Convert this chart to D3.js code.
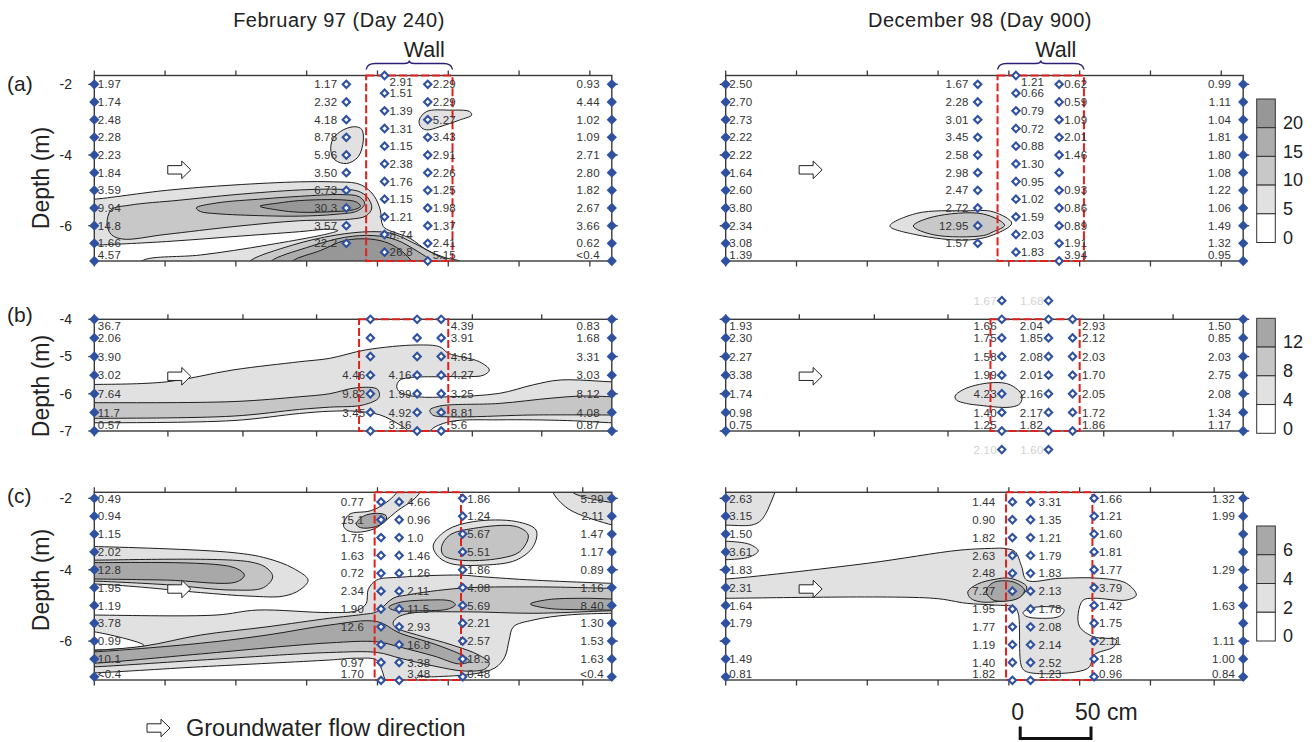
<!DOCTYPE html>
<html><head><meta charset="utf-8">
<script src="https://cdn.jsdelivr.net/npm/d3@7"></script>
<style>body{margin:0;background:#fff}svg text{font-family:"Liberation Sans",Arial,sans-serif}</style>
</head><body><svg id="chart" width="1315" height="742"></svg>
<script>
// ---------------- DATA ----------------
const titles = ["February 97 (Day 240)", "December 98 (Day 900)"];
const panelLetters = ["(a)", "(b)", "(c)"];
const yTicksA = [-2, -4, -6], yTicksB = [-4, -5, -6, -7], yTicksC = [-2, -4, -6];
const xTicksA = [0, 50, 100, 150, 200, 250, 300, 350];
const xTicksB = [0, 52, 105, 157, 267, 316];
const xTicksC = [0, 50, 100, 150, 200, 250, 300, 345];

// sampling depths (m)
const dep2to7 = [-2, -2.5, -3, -3.5, -4, -4.5, -5, -5.5, -6, -6.5, -7];
const dep175 = [-1.75, -2.25, -2.75, -3.25, -3.75, -4.25, -4.75, -5.25, -5.75, -6.25, -6.75];
const dep21 = [-2.1, -2.6, -3.1, -3.6, -4.1, -4.6, -5.1, -5.6, -6.1, -6.6, -7.1];
const dep4to7 = [-4, -4.5, -5, -5.5, -6, -6.5, -7];

// well positions along flow (cm)
const wellsA = [0, 178, 205, 235.5, 365.5];
const wellsB = [0, 195, 228, 245, 365.5];
const wellsC = [0, 202.5, 215.3, 260.2, 365.5];
const wallA = [192, 253], wallB = [187, 250], wallC = [198, 259];

// (a) February 97
const febA_c0 = ["1.97","1.74","2.48","2.28","2.23","1.84","3.59","9.94","14.8","1.66","4.57"];
const febA_c1 = ["1.17","2.32","4.18","8.78","5.96","3.50","6.73","30.3","3.57","22.2"];
const febA_c2 = ["2.91","1.51","1.39","1.31","1.15","2.38","1.76","1.15","1.21","8.74","26.8"];
const febA_c3 = ["2.29","2.29","5.27","3.43","2.91","2.26","1.25","1.98","1.37","2.41","5.15"];
const febA_c4 = ["0.93","4.44","1.02","1.09","2.71","2.80","1.82","2.67","3.66","0.62","<0.4"];
// (a) December 98
const decA_c0 = ["2.50","2.70","2.73","2.22","2.22","1.64","2.60","3.80","2.34","3.08","1.39"];
const decA_c1 = ["1.67","2.28","3.01","3.45","2.58","2.98","2.47","2.72","12.95","1.57"];
const decA_c2 = ["1.21","0.66","0.79","0.72","0.88","1.30","0.95","1.02","1.59","2.03","1.83"];
const decA_c3 = ["0.62","0.59","1.09","2.01","1.46","","0.93","0.86","0.89","1.91","3.94"];
const decA_c4 = ["0.99","1.11","1.04","1.81","1.80","1.08","1.22","1.06","1.49","1.32","0.95"];
// (b) February 97
const febB_c0 = ["36.7","2.06","3.90","3.02","7.64","11.7","0.57"];
const febB_c1 = ["","","","4.46","9.82","3.45",""];
const febB_c2 = ["","","","4.16","1.99","4.92","3.16"];
const febB_c3 = ["4.39","3.91","4.61","4.27","3.25","8.81","5.6"];
const febB_c4 = ["0.83","1.68","3.31","3.03","8.12","4.08","0.87"];
// (b) December 98
const decB_c0 = ["1.93","2.30","2.27","3.38","1.74","0.98","0.75"];
const decB_c1 = ["1.66","1.75","1.58","1.99","4.23","1.40","1.25"];
const decB_c2 = ["2.04","1.85","2.08","2.01","2.16","2.17","1.82"];
const decB_c3 = ["2.93","2.12","2.03","1.70","2.05","1.72","1.86"];
const decB_c4 = ["1.50","0.85","2.03","2.75","2.08","1.34","1.17"];
const decB_extraDepth = [-3.5, -7.5];
const decB_extra1 = ["1.67","2.10"];
const decB_extra2 = ["1.68","1.60"];
// (c) February 97
const febC_c0 = ["0.49","0.94","1.15","2.02","12.8","1.95","1.19","3.78","0.99","10.1","<0.4"];
const febC_c1 = ["0.77","15.1","1.75","1.63","0.72","2.34","1.90","12.6","","0.97","1.70"];
const febC_c2 = ["4.66","0.96","1.0","1.46","1.26","2.11","11.5","2.93","16.8","3.38","3.48"];
const febC_c3 = ["1.86","1.24","5.67","5.51","1.86","4.08","5.69","2.21","2.57","18.9","0.48"];
const febC_c4 = ["5.29","2.11","1.47","1.17","0.89","1.16","8.40","1.30","1.53","1.63","<0.4"];
// (c) December 98
const decC_c0 = ["2.63","3.15","1.50","3.61","1.83","2.31","1.64","1.79","","1.49","0.81"];
const decC_c1 = ["1.44","0.90","1.82","2.63","2.48","7.27","1.95","1.77","1.19","1.40","1.82"];
const decC_c2 = ["3.31","1.35","1.21","1.79","1.83","2.13","1.78","2.08","2.14","2.52","1.23"];
const decC_c3 = ["1.66","1.21","1.60","1.81","1.77","3.79","1.42","1.75","2.11","1.28","0.96"];
const decC_c4 = ["1.32","1.99","","","1.29","","1.63","","1.11","1.00","0.84"];

// legend levels
const levelsA = [0, 5, 10, 15, 20];
const levelsB = [0, 4, 8, 12];
const levelsC = [0, 2, 4, 6];
const shadesA = ["#ffffff", "#e1e1e1", "#c8c8c8", "#adadad", "#979797"];
const shadesB = ["#ffffff", "#e1e1e1", "#c6c6c6", "#a6a6a6"];
const shadesC = ["#ffffff", "#e1e1e1", "#c4c4c4", "#a8a8a8"];

// contour outlines: [distance cm, depth m]
const febA_lv5 = [[-6,-5.25],[0,-5.25],[51,-5.0],[98,-4.85],[145,-4.76],[169,-4.76],[185,-4.80],[192,-4.93],[198,-5.18],[202,-5.56],[203,-5.9],[205,-6.06],[223,-6.36],[235,-6.69],[249,-6.92],[258,-7.0],[262,-7.15],[30,-7.15],[35,-6.97],[75,-6.83],[122,-6.55],[166,-6.22],[172,-6.14],[166,-6.10],[145,-6.17],[98,-6.31],[51,-6.45],[0,-6.55],[-6,-6.55]];
const febA_lv10 = [[9,-5.95],[12,-5.55],[25,-5.42],[60,-5.28],[100,-5.12],[145,-4.99],[172,-4.97],[186,-5.02],[193,-5.2],[196,-5.5],[192,-5.72],[180,-5.82],[145,-5.86],[100,-6.02],[50,-6.25],[20,-6.38],[12,-6.25]];
const febA_lv15 = [[72,-5.5],[86,-5.36],[120,-5.24],[145,-5.17],[175,-5.12],[187,-5.18],[191,-5.38],[186,-5.58],[170,-5.68],[145,-5.73],[120,-5.72],[86,-5.66],[75,-5.6]];
const febA_lv20 = [[117,-5.45],[130,-5.36],[145,-5.29],[175,-5.27],[185,-5.33],[188,-5.45],[183,-5.55],[170,-5.6],[145,-5.62],[130,-5.56]];
const febA_lv10b = [[108,-7.15],[110,-7.0],[140,-6.55],[170,-6.27],[195,-6.17],[210,-6.22],[225,-6.48],[240,-6.8],[250,-7.0],[252,-7.15]];
const febA_lv15b = [[123,-7.15],[125,-7.0],[150,-6.62],[177,-6.33],[197,-6.28],[213,-6.4],[228,-6.72],[238,-7.0],[240,-7.15]];
const febA_lv20b = [[138,-7.15],[140,-7.0],[160,-6.7],[177,-6.42],[195,-6.38],[208,-6.5],[218,-6.75],[224,-7.0],[226,-7.15]];
const febA_spot1 = [[167,-3.86],[168.8,-3.53],[175.8,-3.29],[184,-3.2],[188.8,-3.27],[190,-3.58],[186.4,-4.05],[178.2,-4.24],[170,-4.14]];
const febA_spot2 = [[229.5,-3.01],[234.7,-2.77],[251,-2.73],[265,-2.77],[266.5,-2.87],[258,-3.01],[244,-3.2],[234.7,-3.29],[230.5,-3.2]];
const decA_lv5 = [[116,-6.01],[135,-5.65],[170,-5.58],[189,-5.61],[202,-5.93],[189,-6.26],[170,-6.41],[135,-6.26]];
const decA_lv10 = [[132.5,-6.01],[146.6,-5.75],[182,-5.67],[197,-5.99],[189,-6.17],[182,-6.28],[147,-6.26]];

const febB_lv4 = [[-6,-5.75],[0,-5.75],[51,-5.68],[98,-5.36],[145,-5.14],[166,-5.05],[192,-4.82],[228,-4.69],[244,-4.74],[250,-4.91],[272,-5.14],[279,-5.36],[275,-5.5],[263,-5.54],[249,-5.54],[216,-5.63],[213.6,-5.81],[216,-5.96],[228,-6.08],[251,-6.08],[286,-5.99],[310,-5.76],[329,-5.63],[366,-5.68],[372,-5.68],[372,-6.78],[366,-6.78],[334,-6.72],[286,-6.7],[251,-6.75],[238,-6.97],[238,-7.1],[220,-7.1],[220.6,-6.97],[216,-6.84],[202,-6.57],[185,-6.47],[166,-6.47],[145,-6.53],[98,-6.72],[0,-6.78],[-6,-6.78]];
const febB_lv8a = [[-6,-6.24],[0,-6.24],[98,-6.21],[145,-6.08],[166,-6.0],[185,-5.84],[200,-5.88],[201,-6.1],[190,-6.3],[166,-6.36],[145,-6.42],[98,-6.6],[0,-6.66],[-6,-6.66]];
const febB_lv8b = [[237,-6.44],[244,-6.33],[286,-6.26],[322,-6.12],[345,-6.06],[366,-6.08],[372,-6.08],[372,-6.57],[366,-6.57],[310,-6.57],[251,-6.62],[239,-6.57]];
const decB_lv4 = [[162,-6.06],[170,-5.85],[189,-5.7],[201,-5.76],[209,-6.03],[208,-6.26],[201,-6.36],[177,-6.3],[170,-6.26],[163,-6.17]];

const febC_up2 = [[-6,-3.35],[0,-3.35],[98,-3.52],[122,-3.68],[140.5,-3.96],[151,-4.29],[145,-4.57],[133.5,-4.74],[110,-4.74],[75,-4.64],[28,-4.47],[0,-4.40],[-6,-4.40]];
const febC_up4 = [[-6,-3.73],[0,-3.73],[110,-3.78],[122,-3.96],[126,-4.2],[119.6,-4.5],[98,-4.57],[51,-4.42],[0,-4.32],[-6,-4.32]];
const febC_up6 = [[-6,-3.8],[0,-3.8],[98,-3.93],[106,-4.15],[100.5,-4.34],[51,-4.29],[0,-4.26],[-6,-4.26]];
const febC_lo2 = [[-6,-5.27],[0,-5.27],[86,-5.27],[115,-5.13],[166,-5.2],[185,-5.15],[192,-4.95],[193.5,-4.55],[199.4,-4.29],[216,-4.21],[258,-4.15],[275,-4.2],[310,-4.29],[366,-4.38],[372,-4.38],[372,-5.22],[366,-5.22],[334,-5.27],[310,-5.41],[296,-5.6],[293,-5.97],[290,-6.44],[283,-6.75],[268,-6.92],[240,-7.0],[228,-7.02],[226,-7.15],[207,-7.15],[203,-6.8],[199.4,-6.53],[185,-6.48],[166,-6.53],[75,-6.72],[0,-6.89],[-6,-6.89],[-6,-6.25],[0,-6.25],[35,-6.12],[0,-5.74],[-6,-5.74]];
const febC_lo4 = [[-6,-6.26],[0,-6.26],[35,-6.14],[75,-5.83],[122,-5.6],[166,-5.36],[190,-5.25],[199.4,-5.18],[211,-4.8],[220.6,-4.71],[258,-4.52],[310,-4.48],[366,-4.52],[372,-4.52],[372,-5.15],[366,-5.15],[310,-5.22],[263,-5.18],[223,-5.22],[213.6,-5.35],[211,-5.5],[213,-5.62],[230,-5.85],[252,-6.1],[272,-6.4],[279,-6.62],[276,-6.78],[262,-6.84],[240,-6.7],[216,-6.48],[200,-6.32],[166,-6.32],[80,-6.52],[0,-6.72],[-6,-6.72]];
const febC_lo6 = [[-6,-6.3],[0,-6.3],[75,-6.06],[122,-5.83],[166,-5.55],[199.4,-5.45],[216,-5.78],[240,-6.08],[260,-6.4],[265,-6.56],[258,-6.64],[240,-6.42],[216,-6.17],[200,-6.02],[166,-6.05],[75,-6.36],[0,-6.62],[-6,-6.62]];
const febC_spot115 = [[208,-5.05],[215,-4.92],[235,-4.85],[252,-4.88],[255,-4.98],[250,-5.1],[230,-5.15],[212,-5.14]];
const febC_spot840 = [[308,-4.96],[320,-4.84],[345,-4.8],[366,-4.82],[372,-4.82],[372,-5.13],[366,-5.13],[345,-5.12],[320,-5.08]];
const febC_mid2 = [[239.4,-3.31],[249,-2.89],[268,-2.65],[298,-2.65],[312,-2.89],[310,-3.35],[298,-3.73],[275,-3.87],[251,-3.82],[242,-3.59]];
const febC_mid4 = [[245.3,-3.35],[251,-3.03],[268,-2.84],[298,-2.79],[306.5,-3.03],[300.6,-3.49],[286.5,-3.68],[258,-3.73],[246.5,-3.59]];
const febC_top2 = [[176,-2.75],[180,-2.45],[195,-2.35],[205,-2.15],[213.6,-1.83],[214,-1.7],[231,-1.7],[230,-1.83],[225,-2.05],[214,-2.35],[205,-2.65],[198,-2.85],[185,-2.95],[178,-2.88]];
const febC_top6 = [[185,-2.72],[190,-2.5],[200,-2.42],[206,-2.48],[206,-2.62],[198,-2.8],[188,-2.82]];
const febC_corner2 = [[324,-1.83],[324,-1.7],[372,-1.7],[372,-2.8],[366,-2.75],[335,-2.3]];
const febC_corner4 = [[338,-1.83],[338,-1.7],[372,-1.7],[372,-2.12],[366,-2.12]];
const decC_tl2 = [[-6,-1.7],[36,-1.7],[34.8,-1.83],[28,-2.45],[24,-2.65],[18,-2.75],[0,-2.75],[-6,-2.75]];
const decC_spot2 = [[-6,-3.2],[0,-3.2],[17,-3.29],[23,-3.47],[17,-3.64],[0,-3.72],[-6,-3.72]];
const decC_band2 = [[-6,-4.26],[0,-4.26],[100,-3.82],[165.5,-3.45],[190,-3.4],[196,-3.4],[204.3,-3.49],[209,-3.91],[212.6,-4.29],[236,-4.24],[264,-4.24],[283,-4.38],[290,-4.71],[283,-4.85],[260,-4.8],[252.5,-4.85],[249,-5.22],[250,-5.6],[260,-5.88],[276,-5.97],[274,-6.16],[260,-6.39],[257,-6.72],[248,-6.86],[212.6,-6.86],[209,-6.72],[206.6,-5.22],[204,-5.05],[190,-4.99],[170,-4.94],[146.6,-4.8],[0,-4.8],[-6,-4.8]];
const decC_hole0 = [[210,-5.2],[216,-5.07],[230,-5.04],[239,-5.12],[236,-5.3],[222,-5.36],[212,-5.3]];
const decC_spot4 = [[171,-4.62],[178,-4.4],[190,-4.27],[201,-4.24],[212.6,-4.48],[208,-4.76],[190,-4.9],[180,-4.9],[173,-4.8]];
const decC_spot6 = [[184,-4.6],[189,-4.36],[203,-4.34],[211,-4.57],[206.6,-4.8],[189,-4.85]];

const arrowA = [60, -4.42], arrowB = [60, -5.53], arrowC = [60, -4.54];
const scaleBarStart = 208, scaleBarLen = 50;

// ---------------- DRAW ----------------
const svg = d3.select("#chart");
const BLUE = "#2f51a0", RED = "#e0201c", INK = "#333";

const xL = d3.scaleLinear().domain([0, 365.5]).range([94.3, 611.8]);
const xR = d3.scaleLinear().domain([0, 365.5]).range([725.7, 1243.2]);
const yA = d3.scaleLinear().domain([-1.75, -7.0]).range([75.5, 261]);
const yB = d3.scaleLinear().domain([-4, -7]).range([319.3, 431]);
const yC = d3.scaleLinear().domain([-1.83, -7.09]).range([492.3, 680]);

const sidesAC = ["edgeL", "left", "right", "right", "edgeR"];
const sidesB = ["edgeL", "left", "left", "right", "edgeR"];

const panels = [
  {id:"aL", xs:xL, ys:yA, ticksX:xTicksA, ticksY:yTicksA, yLabels:true, wall:wallA, brace:true, arrow:arrowA,
   cols:[[wellsA[0],dep2to7,febA_c0],[wellsA[1],dep2to7,febA_c1],[wellsA[2],dep175,febA_c2],[wellsA[3],dep2to7,febA_c3],[wellsA[4],dep2to7,febA_c4]],
   sides:sidesAC, offs:[3.5,9,5,5,12],
   contours:[[febA_lv5,shadesA[1]],[febA_spot1,shadesA[1]],[febA_spot2,shadesA[1]],[febA_lv10,shadesA[2]],[febA_lv15,shadesA[3]],[febA_lv20,shadesA[4]],
             [febA_lv10b,shadesA[2]],[febA_lv15b,shadesA[3]],[febA_lv20b,shadesA[4]]]},
  {id:"aR", xs:xR, ys:yA, ticksX:xTicksA, ticksY:yTicksA, yLabels:false, wall:wallA, brace:true, arrow:arrowA,
   cols:[[wellsA[0],dep2to7,decA_c0],[wellsA[1],dep2to7,decA_c1],[wellsA[2],dep175,decA_c2],[wellsA[3],dep2to7,decA_c3],[wellsA[4],dep2to7,decA_c4]],
   sides:sidesAC, offs:[3.5,9,5,5,12],
   contours:[[decA_lv5,shadesA[1]],[decA_lv10,shadesA[2]]]},
  {id:"bL", xs:xL, ys:yB, ticksX:xTicksB, ticksY:yTicksB, yLabels:true, wall:wallB, arrow:arrowB,
   cols:[[wellsB[0],dep4to7,febB_c0],[wellsB[1],dep4to7,febB_c1],[wellsB[2],dep4to7,febB_c2],[wellsB[3],dep4to7,febB_c3],[wellsB[4],dep4to7,febB_c4]],
   sides:sidesB, offs:[3.5,5,5.5,9.5,12],
   contours:[[febB_lv4,shadesB[1]],[febB_lv8a,shadesB[2]],[febB_lv8b,shadesB[2]]]},
  {id:"bR", xs:xR, ys:yB, ticksX:xTicksB, ticksY:yTicksB, yLabels:false, wall:wallB, arrow:arrowB,
   cols:[[wellsB[0],dep4to7,decB_c0],[wellsB[1],dep4to7,decB_c1],[wellsB[2],dep4to7,decB_c2],[wellsB[3],dep4to7,decB_c3],[wellsB[4],dep4to7,decB_c4]],
   sides:sidesB, offs:[3.5,5,5.5,9.5,12],
   extras:[[wellsB[1],decB_extraDepth,decB_extra1],[wellsB[2],decB_extraDepth,decB_extra2]],
   contours:[[decB_lv4,shadesB[1]]]},
  {id:"cL", xs:xL, ys:yC, ticksX:xTicksC, ticksY:yTicksC, yLabels:true, wall:wallC, arrow:arrowC,
   cols:[[wellsC[0],dep2to7,febC_c0],[wellsC[1],dep21,febC_c1],[wellsC[2],dep21,febC_c2],[wellsC[3],dep2to7,febC_c3],[wellsC[4],dep2to7,febC_c4]],
   sides:sidesAC, offs:[3.5,17,8,4.5,8],
   contours:[[febC_up2,shadesC[1]],[febC_up4,shadesC[2]],[febC_up6,shadesC[3]],
             [febC_lo2,shadesC[1]],[febC_lo4,shadesC[2]],[febC_lo6,shadesC[3]],[febC_spot115,shadesC[3]],[febC_spot840,shadesC[3]],
             [febC_mid2,shadesC[1]],[febC_mid4,shadesC[2]],[febC_top2,shadesC[1]],[febC_top6,shadesC[3]],
             [febC_corner2,shadesC[1]],[febC_corner4,shadesC[2]]]},
  {id:"cR", xs:xR, ys:yC, ticksX:xTicksC, ticksY:yTicksC, yLabels:false, wall:wallC, arrow:arrowC,
   cols:[[wellsC[0],dep2to7,decC_c0],[wellsC[1],dep21,decC_c1],[wellsC[2],dep21,decC_c2],[wellsC[3],dep2to7,decC_c3],[wellsC[4],dep2to7,decC_c4]],
   sides:sidesAC, offs:[3.5,17,8,5,8],
   contours:[[decC_tl2,shadesC[1]],[decC_spot2,shadesC[1]],[decC_band2,shadesC[1]],[decC_hole0,shadesC[0]],[decC_spot4,shadesC[2]],[decC_spot6,shadesC[3]]]}
];

const defs = svg.append("defs");
const diamond = d3.symbol().type(d3.symbolSquare).size(27);
const arrowShape = "M-11.5,-4.2L2.5,-4.2L2.5,-8.8L11.5,0L2.5,8.8L2.5,4.2L-11.5,4.2Z";

function drawArrow(g, cx, cy) {
  g.append("path").attr("d", arrowShape).attr("transform", `translate(${cx},${cy})`)
    .attr("fill", "#fff").attr("stroke", "#222").attr("stroke-width", 1);
}

panels.forEach(p => {
  const xs = p.xs, ys = p.ys;
  const [x0, x1] = xs.range(), [y0, y1] = ys.range();
  const g = svg.append("g");
  defs.append("clipPath").attr("id", "clip-" + p.id)
    .append("rect").attr("x", x0).attr("y", y0).attr("width", x1 - x0).attr("height", y1 - y0);
  const cg = g.append("g").attr("clip-path", `url(#clip-${p.id})`);
  const line = d3.line().x(d => xs(d[0])).y(d => ys(d[1])).curve(d3.curveCatmullRomClosed.alpha(0.5));
  p.contours.forEach(([pts, fill]) => {
    cg.append("path").attr("d", line(pts)).attr("fill", fill).attr("stroke", "#1e1e1e").attr("stroke-width", 1);
  });

  drawArrow(g, xs(p.arrow[0]), ys(p.arrow[1]));

  g.append("rect").attr("x", x0).attr("y", y0).attr("width", x1 - x0).attr("height", y1 - y0)
    .attr("fill", "none").attr("stroke", "#3a3a3a").attr("stroke-width", 1.4);
  p.ticksX.forEach(t => {
    g.append("line").attr("x1", xs(t)).attr("x2", xs(t)).attr("y1", y0).attr("y2", y0 - 5).attr("stroke", "#3a3a3a").attr("stroke-width", 1.3);
    g.append("line").attr("x1", xs(t)).attr("x2", xs(t)).attr("y1", y1).attr("y2", y1 + 5.5).attr("stroke", "#3a3a3a").attr("stroke-width", 1.3);
  });
  p.ticksY.forEach(t => {
    g.append("line").attr("x1", x0 - 6).attr("x2", x0).attr("y1", ys(t)).attr("y2", ys(t)).attr("stroke", "#3a3a3a").attr("stroke-width", 1.3);
    g.append("line").attr("x1", x1).attr("x2", x1 + 6).attr("y1", ys(t)).attr("y2", ys(t)).attr("stroke", "#3a3a3a").attr("stroke-width", 1.3);
    if (p.yLabels) {
      g.append("text").attr("x", 72).attr("y", ys(t)).attr("dy", "0.35em").attr("text-anchor", "end")
        .attr("font-size", 14).attr("fill", "#222").text(String(t));
    }
  });

  g.append("rect").attr("x", xs(p.wall[0])).attr("y", y0).attr("width", xs(p.wall[1]) - xs(p.wall[0])).attr("height", y1 - y0)
    .attr("fill", "none").attr("stroke", RED).attr("stroke-width", 2).attr("stroke-dasharray", "8,3");

  if (p.brace) {
    const bx0 = xs(p.wall[0]), bx1 = xs(p.wall[1]), bc = (bx0 + bx1) / 2, by = y0 - 12;
    const path = `M${bx0},${by + 6} Q${bx0 + 1},${by} ${bx0 + 9},${by} L${bc - 5},${by} Q${bc},${by} ${bc},${by - 3} Q${bc},${by} ${bc + 5},${by} L${bx1 - 9},${by} Q${bx1 - 1},${by} ${bx1},${by + 6}`;
    g.append("path").attr("d", path).attr("fill", "none").attr("stroke", "#2b1d78").attr("stroke-width", 1.5);
    g.append("text").attr("x", bc + 15).attr("y", y0 - 19).attr("text-anchor", "middle")
      .attr("font-size", 21.5).attr("fill", "#222").text("Wall");
  }

  const drawCol = (c, i, faded) => {
    const [xv, depths, labels] = c;
    const X = xs(xv);
    const side = faded ? "left" : p.sides[i];
    const off = faded ? p.offs[1] : p.offs[i];
    labels.forEach((lab, k) => {
      const Y = ys(depths[k]);
      if (lab !== "") {
        const ly = faded ? Y : Math.max(y0 + 6.5, Math.min(y1 - 6, Y));
        let lx, anchor;
        if (side === "edgeL") { lx = X + off; anchor = "start"; }
        else if (side === "edgeR") { lx = X - off; anchor = "end"; }
        else if (side === "left") { lx = X - off; anchor = "end"; }
        else { lx = X + off; anchor = "start"; }
        g.append("text").attr("x", lx).attr("y", ly).attr("dy", "0.36em").attr("text-anchor", anchor)
          .attr("font-size", 11.5).attr("letter-spacing", 0.2).attr("fill", faded ? "#d2d2d2" : INK).text(lab);
      }
    });
    labels.forEach((lab, k) => {
      const Y = ys(depths[k]);
      const edge = side === "edgeL" || side === "edgeR";
      g.append("path").attr("d", diamond()).attr("transform", `translate(${X},${Y}) rotate(45)`)
        .attr("fill", edge ? BLUE : "#fff").attr("stroke", BLUE).attr("stroke-width", 2.1);
    });
  };
  p.cols.forEach((c, i) => drawCol(c, i, false));
  if (p.extras) p.extras.forEach(c => drawCol(c, 1, true));
});

svg.append("text").attr("x", 339).attr("y", 27).attr("text-anchor", "middle").attr("font-size", 20)
  .attr("letter-spacing", 0.5).attr("fill", "#222").text(titles[0]);
svg.append("text").attr("x", 980).attr("y", 27).attr("text-anchor", "middle").attr("font-size", 20)
  .attr("letter-spacing", 0.5).attr("fill", "#222").text(titles[1]);

const letterY = [83.5, 315, 496];
const depthTitleY = [178, 386, 580];
panelLetters.forEach((t, i) => {
  svg.append("text").attr("x", 7).attr("y", letterY[i]).attr("dy", "0.35em").attr("font-size", 21).attr("fill", "#222").text(t);
  svg.append("text").attr("transform", `translate(49,${depthTitleY[i]}) rotate(-90)`).attr("text-anchor", "middle")
    .attr("font-size", 23).attr("fill", "#222").text("Depth (m)");
});

function legend(levels, shades, top, boxH) {
  const g = svg.append("g");
  const n = levels.length;
  for (let i = 0; i < n; i++) {
    const idx = n - 1 - i;
    g.append("rect").attr("x", 1256.7).attr("y", top + i * boxH).attr("width", 18.6).attr("height", boxH)
      .attr("fill", shades[idx]).attr("stroke", "#333").attr("stroke-width", 1);
    g.append("text").attr("x", 1283).attr("y", top + (i + 1) * boxH - 5).attr("dy", "0.35em")
      .attr("font-size", 18).attr("fill", "#222").text(levels[idx]);
  }
}
legend(levelsA, shadesA, 99, 28.7);
legend(levelsB, shadesB, 318.3, 28.75);
legend(levelsC, shadesC, 526, 28.75);

drawArrow(svg, 158.5, 728);
svg.append("text").attr("x", 186).attr("y", 736).attr("font-size", 23.5).attr("fill", "#222").text("Groundwater flow direction");

const sb0 = xR(scaleBarStart), sb1 = xR(scaleBarStart + scaleBarLen);
svg.append("path").attr("d", `M${sb0},726.5 L${sb0},738.5 L${sb1},738.5 L${sb1},726.5`)
  .attr("fill", "none").attr("stroke", "#111").attr("stroke-width", 3);
svg.append("text").attr("x", sb0 - 2.5).attr("y", 720).attr("text-anchor", "middle").attr("font-size", 23).attr("fill", "#222").text("0");
svg.append("text").attr("x", sb1 - 16).attr("y", 720).attr("text-anchor", "start").attr("font-size", 23).attr("fill", "#222").text("50 cm");
</script></body></html>
